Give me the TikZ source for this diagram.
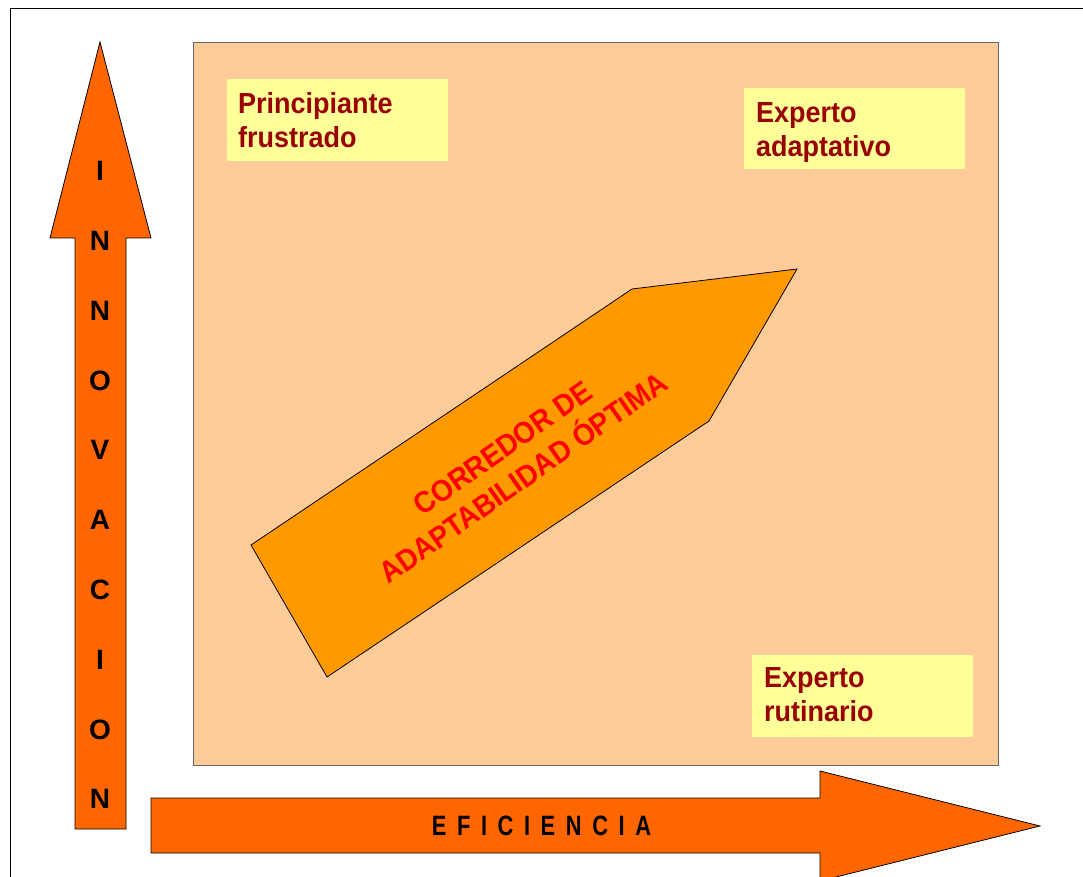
\documentclass[tikz,border=0pt]{standalone}
\usepackage{fontspec}
\setmainfont{Liberation Sans}
\newfontfamily\labelfont[FakeStretch=0.93]{Liberation Sans}
\newfontfamily\axisfont[FakeStretch=0.78]{Liberation Sans}
\definecolor{axisorange}{HTML}{FF6600}
\definecolor{panelpeach}{HTML}{FFCC99}
\definecolor{tagyellow}{HTML}{FFFF99}
\definecolor{tagred}{HTML}{990000}
\definecolor{corridor}{HTML}{FF9900}
\newcommand\lsp{\hspace{10.6pt}}
\begin{document}
\begin{tikzpicture}[x=1pt,y=-1pt,
  axisarrow/.style={fill=axisorange, draw=black, line width=0.8pt, line join=miter},
  panel/.style={fill=panelpeach, draw=black!60, line width=1.3pt, inner sep=0pt, anchor=north west},
  tag/.style={fill=tagyellow, inner sep=0pt, anchor=north west},
  tagtext/.style={font=\labelfont\bfseries\fontsize{29}{34}\selectfont, text=tagred,
    align=left, anchor=north west, inner sep=0pt},
  axisletter/.style={font=\bfseries\fontsize{28}{28}\selectfont, inner sep=0pt},
  corridortext/.style={font=\labelfont\bfseries\fontsize{30}{36}\selectfont, text=red,
    align=center, inner sep=0pt, rotate=35},
]
\useasboundingbox (0,0) rectangle (1083,877);
\clip (0,0) rectangle (1083,877);
\fill[white] (0,0) rectangle (1083,877);

% outer frame (runs past the page on the right and bottom)
\draw[black, line width=1pt] (10.5,8.5) rectangle (1100,900);

% central quadrant panel
\node[panel, minimum width=805pt, minimum height=723pt] (panel) at (193,42) {};

% vertical axis: innovation
\draw[axisarrow] (100,42) -- (151,238) -- (126,238) -- (126,829) -- (75,829)
  -- (75,238) -- (50,238) -- cycle;
\foreach \ch [count=\k] in {I,N,N,O,V,A,C,I,O,N}
  \node[axisletter] (v\k) at (100,{171+69.8*(\k-1)}) {\ch};

% horizontal axis: efficiency
\draw[axisarrow] (151,798) -- (820,798) -- (820,771) -- (1040,826) -- (820,881)
  -- (820,853) -- (151,853) -- cycle;
\node[font=\axisfont\bfseries\fontsize{28}{28}\selectfont, inner sep=0pt] (eff) at (541.5,825.5)
  {E\lsp F\lsp I\lsp C\lsp I\lsp E\lsp N\lsp C\lsp I\lsp A};

% corridor of optimal adaptability
\draw[fill=corridor, draw=black, line width=0.8pt, line join=miter]
  (251,545) -- (632,289) -- (797,269) -- (709,421) -- (327,677) -- cycle;
\node[corridortext] (corr) at (513,463) {CORREDOR DE\\ADAPTABILIDAD ÓPTIMA};

% quadrant labels
\node[tag, minimum width=221pt, minimum height=82pt] (b1) at (227,79) {};
\node[tagtext] (t1) at (238,92) {Principiante\\frustrado};

\node[tag, minimum width=221pt, minimum height=81pt] (b2) at (744,88) {};
\node[tagtext] (t2) at (756,102) {Experto\\adaptativo};

\node[tag, minimum width=221pt, minimum height=82pt] (b3) at (752,655) {};
\node[tagtext] (t3) at (764,667) {Experto\\rutinario};
\end{tikzpicture}
\end{document}
